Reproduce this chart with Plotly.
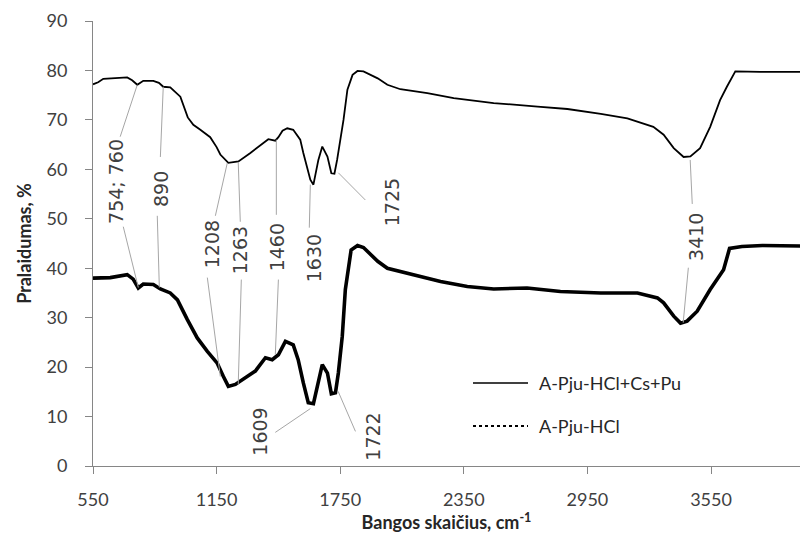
import plotly.graph_objects as go

# ---- data (wavenumber cm^-1, transmittance %) ----
wn_top = [550, 575, 600, 634, 680, 716, 740, 765, 794, 843, 870, 891, 925, 974, 1010, 1037,
          1071, 1119, 1150, 1168, 1207, 1230, 1256, 1314, 1377, 1401, 1435, 1450, 1470, 1493, 1522,
          1556, 1571, 1590, 1605, 1620, 1644, 1663, 1688, 1707, 1722, 1735, 1766, 1785, 1810,
          1834, 1863, 1932, 1979, 2042, 2173, 2301, 2495, 2708, 2853, 3015, 3144, 3270, 3320,
          3369, 3417, 3450, 3497, 3546, 3594, 3627, 3668, 3789, 3985]
t_top = [77.2, 77.6, 78.3, 78.4, 78.5, 78.6, 78.0, 77.1, 77.9, 77.9, 77.5, 76.7, 76.6, 74.7, 70.5, 69.0,
         68.0, 66.5, 64.5, 63.0, 61.3, 61.5, 61.6, 63.3, 65.3, 66.1, 65.8, 66.5, 67.8, 68.3, 68.0,
         66.0, 63.3, 60.0, 57.9, 56.9, 61.9, 64.6, 62.6, 59.2, 59.1, 61.9, 70.0, 76.1, 79.1,
         79.9, 79.8, 78.4, 77.1, 76.2, 75.4, 74.4, 73.4, 72.7, 72.2, 71.2, 70.3, 68.6, 67.0,
         64.3, 62.5, 62.6, 64.3, 68.6, 74.0, 76.7, 79.8, 79.7, 79.7]

wn_bot = [550, 634, 716, 745, 770, 794, 843, 877, 925, 960, 1008, 1056, 1105, 1153, 1183, 1207,
          1241, 1289, 1338, 1387, 1420, 1450, 1484, 1522, 1546, 1571, 1595, 1620, 1644, 1663,
          1688, 1707, 1727, 1741, 1760, 1775, 1803, 1834, 1863, 1932, 1979, 2106, 2237, 2367,
          2495, 2657, 2819, 3015, 3193, 3290, 3320, 3369, 3402, 3434, 3483, 3546, 3611, 3640,
          3700, 3800, 3985]
t_bot = [38.0, 38.1, 38.7, 37.8, 36.0, 36.8, 36.7, 35.8, 35.0, 33.6, 29.6, 25.9, 23.2, 20.8, 18.1, 16.1,
         16.5, 17.8, 19.2, 21.9, 21.5, 22.5, 25.2, 24.5, 21.5, 16.8, 12.8, 12.6, 16.9, 20.5,
         18.8, 14.6, 14.8, 18.8, 26.2, 35.7, 43.7, 44.6, 44.2, 41.4, 40.0, 38.7, 37.3, 36.3,
         35.8, 36.0, 35.3, 35.0, 35.0, 34.0, 33.0, 30.3, 28.9, 29.3, 31.3, 35.7, 39.7, 44.0,
         44.4, 44.6, 44.5]

series_names = ["A-Pju-HCl+Cs+Pu", "A-Pju-HCl"]
x_ticks = [550, 1150, 1750, 2350, 2950, 3550]
y_ticks = [0, 10, 20, 30, 40, 50, 60, 70, 80, 90]

# peak labels: text, label centre (wn, %), leader lines [(x0,y0,x1,y1), ...]
peak_labels = [
    ("754; 760", 658, 57.5, [(765, 77.1, 682, 66.6), (697, 48.4, 770, 36.1)]),
    ("890", 877, 56.1, [(891, 76.7, 877, 62.5), (862, 50.6, 872, 36.1)]),
    ("1208", 1129, 44.9, [(1202, 61.3, 1144, 50.6), (1105, 38.1, 1168, 18.1)]),
    ("1263", 1265, 43.7, [(1255, 61.5, 1265, 49.4), (1270, 37.7, 1255, 16.5)]),
    ("1460", 1445, 44.3, [(1440, 66.0, 1440, 50.8), (1450, 37.7, 1435, 22.5)]),
    ("1630", 1620, 42.1, [(1605, 56.9, 1600, 48.2)]),
    ("1725", 2003, 53.4, [(1741, 59.3, 1872, 53.8)]),
    ("3410", 3474, 46.4, [(3449, 61.9, 3459, 53.0), (3440, 40.1, 3415, 29.0)]),
    ("1609", 1362, 7.0, [(1435, 6.8, 1605, 11.6)]),
    ("1722", 1911, 6.0, [(1740, 15.1, 1824, 7.0)]),
]

W, H = 800, 542
L, R, T, B = 93, 0, 21, 76
X_MAX = 3982

fig = go.Figure()
fig.add_trace(go.Scatter(x=wn_top, y=t_top, mode="lines", name=series_names[0],
                         line=dict(color="black", width=1.8), showlegend=False))
fig.add_trace(go.Scatter(x=wn_bot, y=t_bot, mode="lines", name=series_names[1],
                         line=dict(color="black", width=3.6), showlegend=False))

ann_font = dict(family="DejaVu Sans", size=19, color="#404040")
shapes = []
annotations = []
for text, lx, ly, leaders in peak_labels:
    annotations.append(dict(x=lx, y=ly, xref="x", yref="y", text=text, showarrow=False,
                            textangle=-90, xanchor="center", yanchor="middle", font=ann_font))
    for (x0, y0, x1, y1) in leaders:
        shapes.append(dict(type="line", xref="x", yref="y", x0=x0, y0=y0, x1=x1, y1=y1,
                           line=dict(color="#a6a6a6", width=1)))

# manual legend (pixel positions -> paper)
def px(xp):
    return (xp - L) / (W - L - R)

def py(yp):
    return (H - B - yp) / (H - T - B)

leg_font = dict(family="Lato", size=18, color="#262626")
for name, ypix, dash, w in [(series_names[0], 383, "solid", 1.5), (series_names[1], 426, "dot", 2.2)]:
    shapes.append(dict(type="line", xref="paper", yref="paper", x0=px(473), x1=px(528),
                       y0=py(ypix), y1=py(ypix), line=dict(color="black", width=w, dash=dash)))
    annotations.append(dict(x=px(537), y=py(ypix), xref="paper", yref="paper", text=name,
                            showarrow=False, xanchor="left", yanchor="middle", font=leg_font))

fig.update_layout(
    width=W, height=H,
    margin=dict(l=L, r=R, t=T, b=B, pad=0),
    plot_bgcolor="white", paper_bgcolor="white",
    shapes=shapes, annotations=annotations,
    showlegend=False,
    font=dict(family="Lato", size=18, color="#404040"),
)
fig.update_xaxes(range=[550, X_MAX], tickvals=x_ticks, ticktext=[str(v) for v in x_ticks],
                 showgrid=False, zeroline=False, showline=True, linecolor="#868686", linewidth=1,
                 ticks="outside", ticklen=7, tickcolor="#868686", ticklabelstandoff=10,
                 tickfont=dict(family="Lato", size=18, color="#404040"),
                 title=dict(text="<b>Bangos skaičius, cm<sup>-1</sup></b>",
                            font=dict(family="Lato", size=18, color="#262626"), standoff=7))
fig.update_yaxes(range=[0, 90], tickvals=y_ticks, showgrid=False, zeroline=False,
                 showline=True, linecolor="#868686", linewidth=1,
                 ticks="outside", ticklen=7, tickcolor="#868686", ticklabelstandoff=14,
                 tickfont=dict(family="Lato", size=18, color="#404040"),
                 title=dict(text="<b>Pralaidumas, %</b>",
                            font=dict(family="Lato", size=18, color="#262626"), standoff=10))

fig.write_html("out.html")
